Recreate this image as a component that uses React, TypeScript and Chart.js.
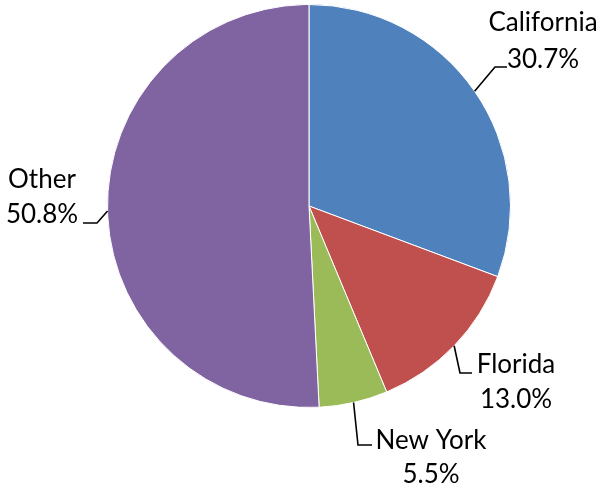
import React, { useEffect, useRef } from "react";
import { Chart, registerables } from "chart.js";

Chart.register(...registerables);

const categories = ["California", "Florida", "New York", "Other"];
const shares = [30.7, 13.0, 5.5, 50.8];
const colors = ["#4F81BD", "#C0504D", "#9BBB59", "#8064A2"];

// label layout: centre x of text block, baselines of two lines, leader elbow and end
const labelLayout = [
  { cx: 543, y1: 31, y2: 68, elbow: [495, 67], end: [507, 67] },
  { cx: 516, y1: 373, y2: 408, elbow: [460, 373], end: [472, 373] },
  { cx: 431, y1: 449, y2: 483, elbow: [358, 445], end: [372, 445] },
  { cx: 42, y1: 188, y2: 223, elbow: [97, 223], end: [83, 223] },
];

const FONT = "26px Lato";

const labelPlugin = {
  id: "pieLabels",
  afterDatasetsDraw(chart: any) {
    const ctx = chart.ctx;
    const meta = chart.getDatasetMeta(0);
    ctx.save();
    meta.data.forEach((arc: any, i: number) => {
      const p = arc.getProps(["x", "y", "startAngle", "endAngle", "outerRadius"], true);
      const mid = (p.startAngle + p.endAngle) / 2;
      const sx = p.x + Math.cos(mid) * p.outerRadius;
      const sy = p.y + Math.sin(mid) * p.outerRadius;
      const L = labelLayout[i];
      ctx.strokeStyle = "#000";
      ctx.lineWidth = 1.6;
      ctx.beginPath();
      ctx.moveTo(sx, sy);
      ctx.lineTo(L.elbow[0], L.elbow[1]);
      ctx.lineTo(L.end[0], L.end[1]);
      ctx.stroke();
      ctx.fillStyle = "#000";
      ctx.font = FONT;
      ctx.textAlign = "center";
      ctx.textBaseline = "alphabetic";
      ctx.fillText(categories[i], L.cx, L.y1);
      ctx.fillText(shares[i].toFixed(1) + "%", L.cx, L.y2);
    });
    ctx.restore();
  },
};

export default function App() {
  const ref = useRef<HTMLCanvasElement>(null);
  useEffect(() => {
    if (!ref.current) return;
    const chart = new Chart(ref.current, {
      type: "pie",
      data: {
        labels: categories,
        datasets: [
          {
            data: shares,
            backgroundColor: colors,
            borderColor: "#ffffff",
            borderWidth: 1,
          },
        ],
      },
      options: {
        animation: false,
        responsive: false,
        maintainAspectRatio: false,
        layout: { padding: { left: 107, right: 93, top: 4, bottom: 78 } },
        plugins: {
          legend: { display: false },
          tooltip: { enabled: false },
        },
      },
      plugins: [labelPlugin],
    });
    return () => chart.destroy();
  }, []);
  return (
    <div style={{ position: "fixed", left: 0, top: 0, width: 604, height: 486, background: "#fff" }}>
      <canvas ref={ref} width={604} height={486} style={{ width: 604, height: 486 }} />
    </div>
  );
}
